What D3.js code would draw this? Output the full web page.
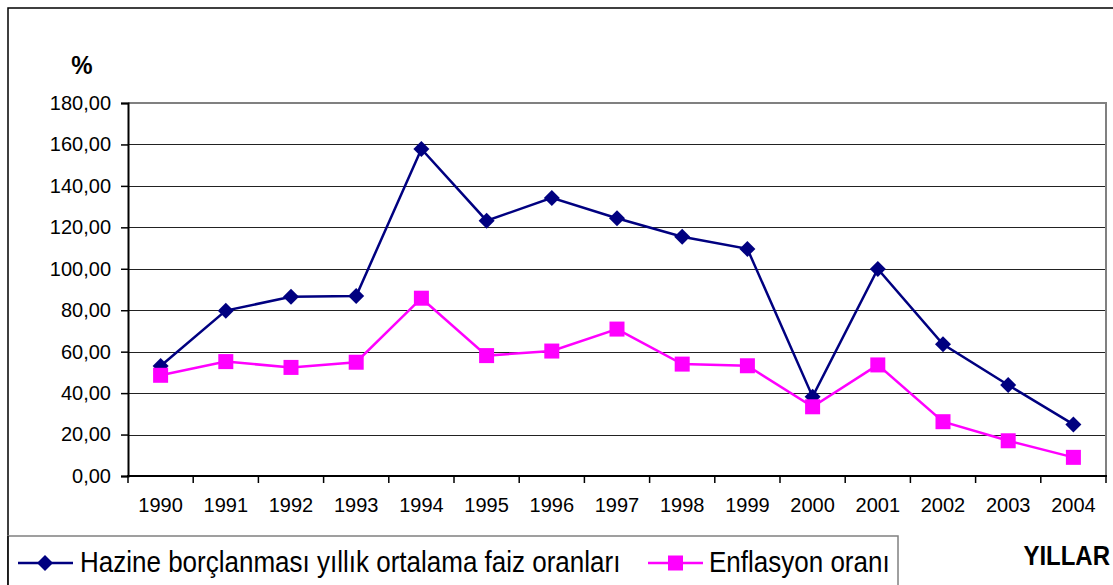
<!DOCTYPE html>
<html>
<head>
<meta charset="utf-8">
<script src="https://cdn.jsdelivr.net/npm/d3@7"></script>
<style>
  html, body { margin: 0; padding: 0; background: #fff; }
  svg { display: block; font-family: "Liberation Sans", Arial, sans-serif; }
</style>
</head>
<body>
<svg id="chart" width="1113" height="585"></svg>
<script>
const years = ["1990","1991","1992","1993","1994","1995","1996","1997","1998","1999","2000","2001","2002","2003","2004"];
const faiz = [53.1, 79.8, 86.5, 86.9, 157.8, 123.2, 134.2, 124.4, 115.5, 109.6, 38.3, 99.9, 63.6, 43.9, 24.9];
const enflasyon = [48.6, 55.2, 52.4, 54.9, 85.8, 58.1, 60.3, 70.9, 54.0, 53.2, 33.4, 53.6, 26.2, 17.0, 9.0];
const yTicks = [0, 20, 40, 60, 80, 100, 120, 140, 160, 180];
const seriesNames = ["Hazine borçlanması yıllık ortalama faiz oranları", "Enflasyon oranı"];
const yLabel = "%";
const xLabel = "YILLAR";

const svg = d3.select("#chart");
const L = 128, R = 1106, T = 103, B = 476;

const x = d3.scaleBand().domain(years).range([L, R]);
const y = d3.scaleLinear().domain([0, 180]).range([B, T]);
const fmt = v => d3.format(".2f")(v).replace(".", ",");

// outer border
svg.append("rect").attr("x", 8).attr("y", 8).attr("width", 1120).attr("height", 600)
  .attr("fill", "none").attr("stroke", "#000").attr("stroke-width", 1.5);

// gridlines
svg.append("g").selectAll("line").data(yTicks.filter(d => d > 0 && d < 180)).join("line")
  .attr("x1", L).attr("x2", R)
  .attr("y1", d => Math.round(y(d)) + 0.5).attr("y2", d => Math.round(y(d)) + 0.5)
  .attr("stroke", "#222").attr("stroke-width", 1);

// plot top & right border (gray)
svg.append("path")
  .attr("d", `M${L},${T}H${R}V${B}`)
  .attr("fill", "none").attr("stroke", "#808080").attr("stroke-width", 2);

// y axis
const yAxis = d3.axisLeft(y).tickValues(yTicks).tickSize(7).tickPadding(10).tickFormat(fmt);
const gy = svg.append("g").attr("transform", `translate(${L},0)`).call(yAxis);
gy.select(".domain").attr("stroke", "#000").attr("stroke-width", 2);
gy.selectAll(".tick line").attr("stroke", "#000").attr("stroke-width", 1.5);
gy.selectAll(".tick text").attr("font-size", 20).attr("fill", "#000")
  .attr("font-family", "Liberation Sans, Arial, sans-serif");

// x axis: ticks at category boundaries
const gx = svg.append("g").attr("transform", `translate(0,${B})`);
gx.append("line").attr("x1", L - 1).attr("x2", R + 1).attr("y1", 0).attr("y2", 0)
  .attr("stroke", "#000").attr("stroke-width", 2);
const bounds = years.map(d => x(d)).concat([x(years[years.length - 1]) + x.bandwidth()]);
gx.selectAll("line.tk").data(bounds).join("line").attr("class", "tk")
  .attr("x1", d => d).attr("x2", d => d).attr("y1", 0).attr("y2", 7)
  .attr("stroke", "#000").attr("stroke-width", 1.5);
gx.selectAll("text").data(years).join("text")
  .attr("x", d => x(d) + x.bandwidth() / 2).attr("y", 36)
  .attr("text-anchor", "middle").attr("font-size", 20).text(d => d);

// lines
const cx = d => x(d) + x.bandwidth() / 2;
const line = d3.line().x((d, i) => cx(years[i])).y(d => y(d));
svg.append("path").datum(faiz).attr("d", line)
  .attr("fill", "none").attr("stroke", "#000080").attr("stroke-width", 2.5);
svg.append("path").datum(enflasyon).attr("d", line)
  .attr("fill", "none").attr("stroke", "#FF00FF").attr("stroke-width", 2.5);

const diamond = (cx0, cy0, r) => `M${cx0},${cy0 - r}L${cx0 + r},${cy0}L${cx0},${cy0 + r}L${cx0 - r},${cy0}Z`;
svg.append("g").selectAll("path").data(faiz).join("path")
  .attr("d", (d, i) => diamond(cx(years[i]), y(d), 8)).attr("fill", "#000080");
svg.append("g").selectAll("rect").data(enflasyon).join("rect")
  .attr("x", (d, i) => cx(years[i]) - 7.5).attr("y", d => y(d) - 7.5)
  .attr("width", 15).attr("height", 15).attr("fill", "#FF00FF");

// axis titles
svg.append("text").attr("transform", "translate(82,74) scale(1,1.1)").attr("text-anchor", "middle")
  .attr("font-size", 24).attr("font-weight", "bold").text(yLabel);
svg.append("text").attr("transform", "translate(1110,565) scale(1,1.12)").attr("text-anchor", "end")
  .attr("font-size", 24).attr("font-weight", "bold").text(xLabel);

// legend
const lg = svg.append("g");
lg.append("rect").attr("x", 8).attr("y", 536).attr("width", 890).attr("height", 80)
  .attr("fill", "#fff").attr("stroke", "#808080").attr("stroke-width", 1.5);
lg.append("line").attr("x1", 8).attr("x2", 8).attr("y1", 536).attr("y2", 585)
  .attr("stroke", "#000").attr("stroke-width", 1.5);
const ly = 563;
lg.append("line").attr("x1", 18).attr("x2", 73).attr("y1", ly).attr("y2", ly)
  .attr("stroke", "#000080").attr("stroke-width", 2.5);
lg.append("path").attr("d", diamond(45, ly, 8)).attr("fill", "#000080");
lg.append("text").attr("transform", "translate(80,572) scale(1,1.1)").attr("font-size", 26).text(seriesNames[0]);
lg.append("line").attr("x1", 648).attr("x2", 703).attr("y1", ly).attr("y2", ly)
  .attr("stroke", "#FF00FF").attr("stroke-width", 2.5);
lg.append("rect").attr("x", 668).attr("y", ly - 7.5).attr("width", 15).attr("height", 15).attr("fill", "#FF00FF");
lg.append("text").attr("transform", "translate(709,572) scale(1,1.1)").attr("font-size", 26).text(seriesNames[1]);
</script>
</body>
</html>
